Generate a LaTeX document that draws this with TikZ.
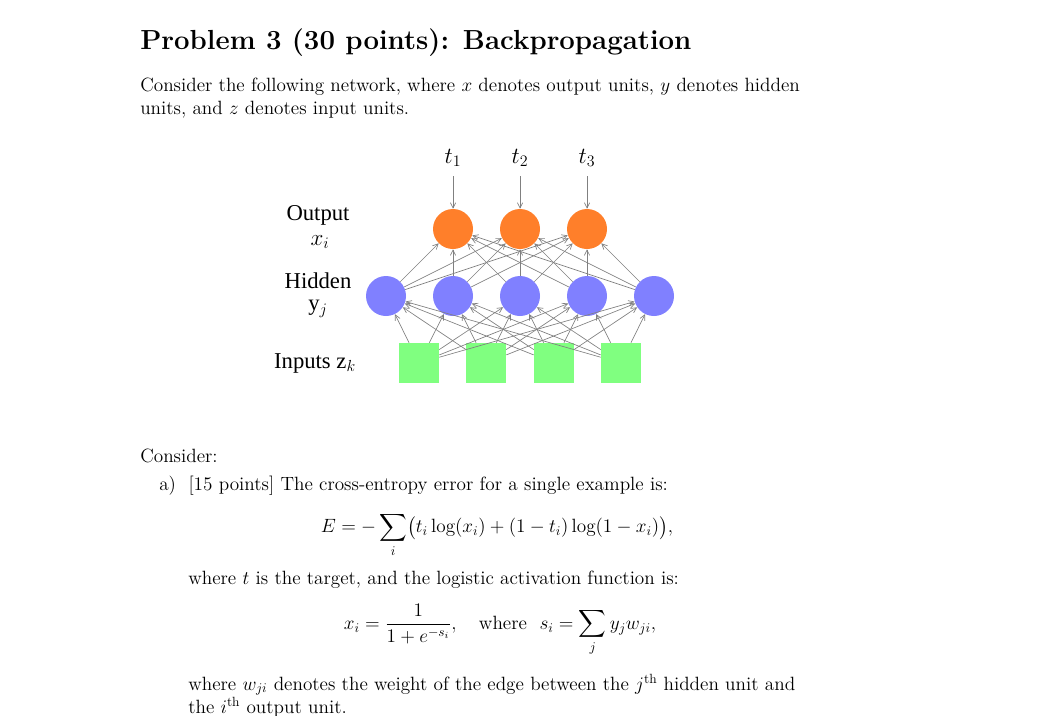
\documentclass[tikz,border=0pt]{standalone}
\usepackage{amsmath}
\usepackage{fontspec}
\usetikzlibrary{arrows.meta}
\newfontfamily\tms{Liberation Serif}
\begin{document}
\begin{tikzpicture}[x=0.75pt,y=-0.75pt,
  txt/.style={anchor=base west,inner sep=0pt,font=\fontsize{14.4}{17}\selectfont},
  lbl/.style={inner sep=0pt,font=\tms\fontsize{17}{20}\selectfont},
  edge/.style={draw=gray,line width=0.5pt,-{Straight Barb[length=4pt,width=4pt]}}]
\useasboundingbox (0,0) rectangle (1060,715);
\tikzset{circ/.style={circle,minimum size=30pt,inner sep=0pt},
  onode/.style={circ,fill={rgb,255:red,255;green,127;blue,42}},
  hnode/.style={circ,fill={rgb,255:red,128;green,128;blue,255}},
  inode/.style={minimum size=30pt,inner sep=0pt,fill={rgb,255:red,128;green,255;blue,128}}}
\node[txt,font=\bfseries\fontsize{20.7}{24}\selectfont] (title) at (140,49) {Problem 3 (30 points): Backpropagation};
\node[txt] (l1) at (140,91) {Consider the following network, where $x$ denotes output units, $y$ denotes hidden};
\node[txt] (l2) at (140,114) {units, and $z$ denotes input units.};
% network
\foreach \i/\x in {1/453,2/520,3/587}{
  \node[onode] (o\i) at (\x,229) {};
  \node[inner sep=0pt,font=\fontsize{17}{20}\selectfont] (t\i) at (\x,158) {$t_{\i}$};
  \draw[edge] (t\i) ++(0,18) -- (o\i);
}
\foreach \j/\x in {1/386,2/453,3/520,4/587,5/654}{
  \node[hnode] (h\j) at (\x,296) {};
}
\foreach \k/\x in {1/419,2/486,3/554,4/621}{
  \node[inode] (z\k) at (\x,363) {};
}
\foreach \j in {1,...,5}{\foreach \i in {1,2,3}{\draw[edge] (h\j) -- (o\i);}}
\foreach \k in {1,...,4}{\foreach \j in {1,...,5}{\draw[edge] (z\k) -- (h\j);}}
\node[lbl] (lo) at (318,215) {Output};
\node[lbl] (lx) at (320,242) {$x_i$};
\node[lbl] (lh) at (318,281) {Hidden};
\node[lbl] (ly) at (318,309) {y$_j$};
\node[lbl] (lz) at (315,363) {Inputs z$_k$};
% text below
\node[txt] (c) at (140,462) {Consider:};
\node[txt] (a) at (159,490) {a)\ \ [15 points] The cross-entropy error for a single example is:};
\node[txt,anchor=center] (eq1) at (497,535) {$\displaystyle E=-\sum_i\bigl(t_i\log(x_i)+(1-t_i)\log(1-x_i)\bigr),$};
\node[txt] (w1) at (188,584) {where $t$ is the target, and the logistic activation function is:};
\node[txt,anchor=center] (eq2) at (500,630) {$\displaystyle x_i=\frac{1}{1+e^{-s_i}},\quad\text{where}\ \ s_i=\sum_j y_j w_{ji},$};
\node[txt] (w2) at (188,690) {where $w_{ji}$ denotes the weight of the edge between the $j^{\text{th}}$ hidden unit and};
\node[txt] (w3) at (188,713) {the $i^{\text{th}}$ output unit.};
\end{tikzpicture}
\end{document}
